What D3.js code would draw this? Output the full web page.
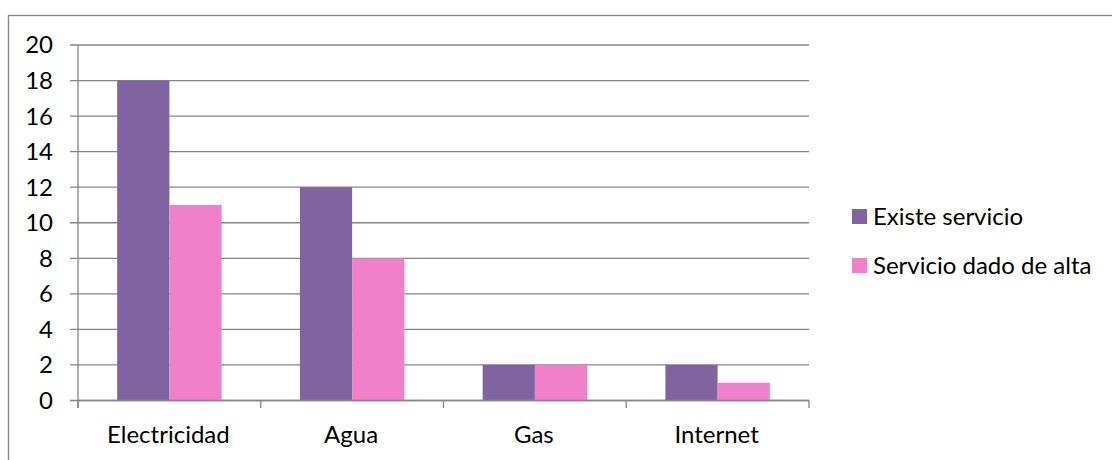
<!DOCTYPE html>
<html>
<head>
<meta charset="utf-8">
<script src="https://cdn.jsdelivr.net/npm/d3@7"></script>
<style>
  html, body { margin: 0; padding: 0; background: #fff; }
  svg { display: block; }
  text { font-family: Lato, "Open Sans", sans-serif; fill: #000; }
</style>
</head>
<body>
<svg id="chart" width="1112" height="460"></svg>
<script>
const categories = ["Electricidad", "Agua", "Gas", "Internet"];
const seriesNames = ["Existe servicio", "Servicio dado de alta"];
const existeServicio = [18, 12, 2, 2];
const servicioDadoDeAlta = [11, 8, 2, 1];
const yTicks = [0, 2, 4, 6, 8, 10, 12, 14, 16, 18, 20];
const colors = ["#8064A2", "#F27FC9"];

const svg = d3.select("#chart");
const gridColor = "#868686";
const fontSize = "24px";

// outer chart frame
svg.append("rect")
  .attr("x", 8.5).attr("y", 15.5)
  .attr("width", 1200).attr("height", 600)
  .attr("fill", "none").attr("stroke", gridColor).attr("stroke-width", 1.3);

const plot = { left: 78, right: 809, top: 45, bottom: 400.5 };

const x0 = d3.scaleBand().domain(categories).range([plot.left, plot.right]).paddingInner(0).paddingOuter(0);
const bw = x0.bandwidth();
const barW = bw / 3.5;               // gap = 150% of a bar
const x1 = d3.scaleBand().domain(seriesNames).range([bw * 0.75 / 3.5, bw * 0.75 / 3.5 + 2 * barW]);
const y = d3.scaleLinear().domain([0, 20]).range([plot.bottom, plot.top]);

// horizontal gridlines with small left ticks
svg.append("g").selectAll("line").data(yTicks).join("line")
  .attr("x1", plot.left - 8).attr("x2", plot.right)
  .attr("y1", d => y(d)).attr("y2", d => y(d))
  .attr("stroke", gridColor).attr("stroke-width", 1.3);

// y axis line
svg.append("line")
  .attr("x1", plot.left).attr("x2", plot.left)
  .attr("y1", plot.top).attr("y2", plot.bottom + 7.5)
  .attr("stroke", gridColor).attr("stroke-width", 1.3);

// y labels
svg.append("g").selectAll("text").data(yTicks).join("text")
  .attr("x", 53).attr("y", d => y(d))
  .attr("dy", "0.35em")
  .attr("text-anchor", "end")
  .style("font-size", fontSize)
  .text(d => d);

// bars
const data = categories.map((c, i) => ({ cat: c, vals: [existeServicio[i], servicioDadoDeAlta[i]] }));
const groups = svg.append("g").selectAll("g").data(data).join("g")
  .attr("transform", d => `translate(${x0(d.cat)},0)`);
groups.selectAll("rect").data(d => d.vals.map((v, j) => ({ name: seriesNames[j], v, j }))).join("rect")
  .attr("x", d => x1(d.name))
  .attr("width", x1.bandwidth())
  .attr("y", d => y(d.v))
  .attr("height", d => y(0) - y(d.v))
  .attr("fill", d => colors[d.j]);

// x axis line and category ticks
svg.append("line")
  .attr("x1", plot.left).attr("x2", plot.right)
  .attr("y1", plot.bottom).attr("y2", plot.bottom)
  .attr("stroke", gridColor).attr("stroke-width", 1.3);
const tickXs = categories.map(c => x0(c)).concat([plot.right]);
svg.append("g").selectAll("line").data(tickXs).join("line")
  .attr("x1", d => d).attr("x2", d => d)
  .attr("y1", plot.bottom).attr("y2", plot.bottom + 7.5)
  .attr("stroke", gridColor).attr("stroke-width", 1.3);

svg.append("g").selectAll("text").data(categories).join("text")
  .attr("x", d => x0(d) + bw / 2 - 1)
  .attr("y", 443)
  .attr("text-anchor", "middle")
  .style("font-size", fontSize)
  .text(d => d);

// legend
const legend = svg.append("g").selectAll("g").data(seriesNames).join("g")
  .attr("transform", (d, i) => `translate(852,${209 + i * 49})`);
legend.append("rect").attr("width", 15).attr("height", 15).attr("fill", (d, i) => colors[i]);
legend.append("text").attr("x", 21).attr("y", 7.5).attr("dy", "0.35em")
  .style("font-size", fontSize).text(d => d);
</script>
</body>
</html>
